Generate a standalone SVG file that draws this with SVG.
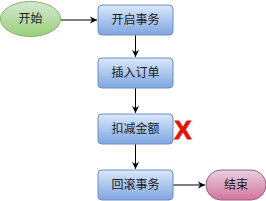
<svg xmlns="http://www.w3.org/2000/svg" width="266" height="201" viewBox="0 0 266 201">
<defs>
<linearGradient id="gBlue" x1="0" y1="0" x2="0" y2="1"><stop offset="0" stop-color="#dae8fc"/><stop offset="1" stop-color="#7ea6e0"/></linearGradient>
<linearGradient id="gGreen" x1="0" y1="0" x2="0" y2="1"><stop offset="0" stop-color="#d5e8d4"/><stop offset="1" stop-color="#97d077"/></linearGradient>
<linearGradient id="gPink" x1="0" y1="0" x2="0" y2="1"><stop offset="0" stop-color="#e6d0de"/><stop offset="1" stop-color="#d5739d"/></linearGradient>
<marker id="arr" markerWidth="8" markerHeight="8" refX="7" refY="4" orient="auto" markerUnits="userSpaceOnUse"><path d="M0,0.5 L7,4 L0,7.5 L2,4 Z" fill="#000"/></marker>
</defs>
<style>
.box{fill:url(#gBlue);stroke:#6c8ebf;stroke-width:1}
.lbl{font-family:"Liberation Sans","Noto Sans CJK SC",sans-serif;font-size:12px;fill:#1a1a1a;text-anchor:middle;dominant-baseline:central}
.edge{stroke:#000;stroke-width:1;fill:none;marker-end:url(#arr)}
</style>
<g id="connectors">
<path class="edge" d="M61,20 L97,20"/>
<path class="edge" d="M135.5,35 L135.5,57"/>
<path class="edge" d="M135.5,88 L135.5,113"/>
<path class="edge" d="M135.5,144 L135.5,169"/>
<path class="edge" d="M173,185 L205,185"/>
</g>
<g id="start"><ellipse cx="30.5" cy="19" rx="30" ry="17.5" fill="url(#gGreen)" stroke="#82b366"/><text class="lbl" x="30.5" y="19">开始</text></g>
<g id="n1"><rect class="box" x="98" y="5" width="75" height="30" rx="4"/><text class="lbl" x="135.5" y="20">开启事务</text></g>
<g id="n2"><rect class="box" x="98" y="58" width="75" height="30" rx="4"/><text class="lbl" x="135.5" y="73">插入订单</text></g>
<g id="n3"><rect class="box" x="98" y="114" width="75" height="30" rx="4"/><text class="lbl" x="135.5" y="129">扣减金额</text></g>
<g id="n4"><rect class="box" x="98" y="170" width="75" height="30" rx="4"/><text class="lbl" x="135.5" y="185">回滚事务</text></g>
<g id="end"><rect x="206" y="170" width="60" height="30" rx="15" fill="url(#gPink)" stroke="#996185"/><text class="lbl" x="236" y="185">结束</text></g>
<g id="cross"><text x="183" y="138.5" font-family="Liberation Sans,sans-serif" font-size="26" font-weight="bold" fill="#e51400" stroke="#e51400" stroke-width="0.8" text-anchor="middle">X</text></g>
</svg>
